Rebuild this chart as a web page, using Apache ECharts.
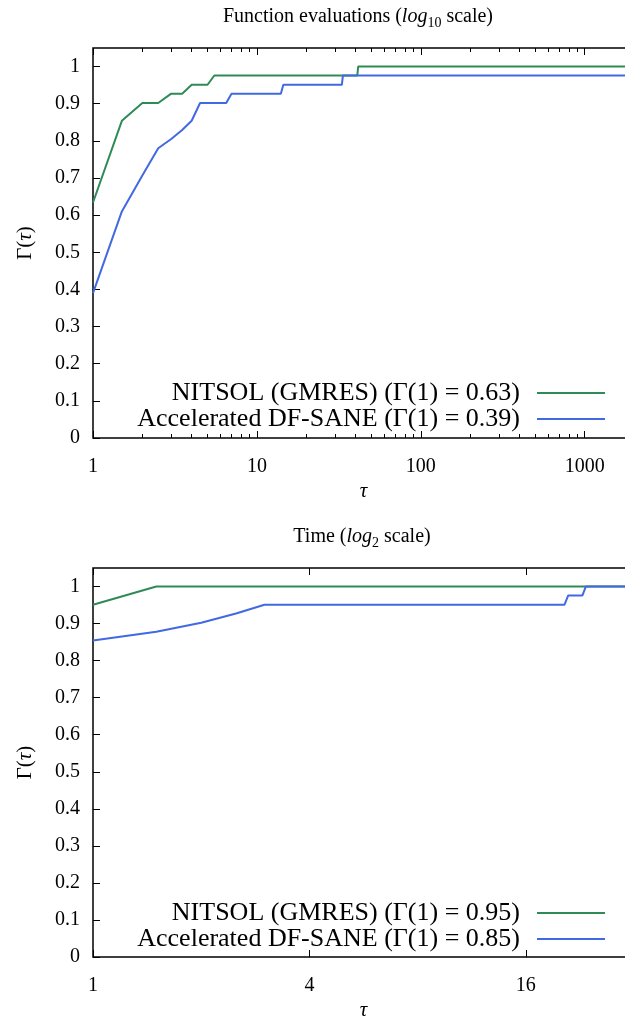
<!DOCTYPE html>
<html>
<head>
<meta charset="utf-8">
<title>performance profiles</title>
<script src="https://cdn.jsdelivr.net/npm/echarts@6/dist/echarts.min.js"></script>
<style>
html,body{margin:0;padding:0;background:#fff}
#c{width:625px;height:1018px}
</style>
</head>
<body>
<div id="c"></div>
<script>
// function evaluations profile (log10 tau)
var fevalNitsolTau = [1, 1.5, 2, 2.5, 3, 3.5, 4, 5, 5.5, 41, 41.5, 2000];
var fevalNitsolVal = [0.634, 0.854, 0.902, 0.902, 0.927, 0.927, 0.951, 0.951, 0.976, 0.976, 1, 1];
var fevalDfsaneTau = [1, 1.5, 2, 2.5, 3, 3.5, 4, 4.5, 6.5, 7, 14, 14.5, 33, 33.5, 2000];
var fevalDfsaneVal = [0.39, 0.61, 0.707, 0.78, 0.805, 0.829, 0.854, 0.902, 0.902, 0.927, 0.927, 0.951, 0.951, 0.976, 0.976];

// time profile (log2 tau)
var timeNitsolTau = [1, 1.5, 32];
var timeNitsolVal = [0.951, 1, 1];
var timeDfsaneTau = [1, 1.5, 2, 2.5, 3, 20.5, 21, 23, 23.5, 32];
var timeDfsaneVal = [0.854, 0.878, 0.902, 0.927, 0.951, 0.951, 0.976, 0.976, 1, 1];

var fevalMajor = [1, 10, 100, 1000];
var fevalMinor = [2, 3, 4, 5, 6, 7, 8, 9, 20, 30, 40, 50, 60, 70, 80, 90, 200, 300, 400, 500, 600, 700, 800, 900];
var timeMajor = [1, 4, 16];
var yTicks = [0, 0.1, 0.2, 0.3, 0.4, 0.5, 0.6, 0.7, 0.8, 0.9, 1];

var names = [
	'NITSOL (GMRES) (Γ(1) = 0.63)',
	'Accelerated DF-SANE (Γ(1) = 0.39)',
	'NITSOL (GMRES) (Γ(1) = 0.95)',
	'Accelerated DF-SANE (Γ(1) = 0.85)'
];

var FONT = '"Liberation Serif", "DejaVu Serif", serif';
var GREEN = '#2e8b57', BLUE = '#4169e1';

function pairs(t, v) {
	return t.map(function (x, i) { return [x, v[i]]; });
}

function xAx(grid, base, max, pos, ticks, len, labels) {
	return {
		gridIndex: grid, type: 'log', logBase: base, min: 1, max: max, position: pos,
		axisLine: { show: false },
		axisTick: { show: true, inside: true, length: len, customValues: ticks, lineStyle: { color: '#000', width: 1 } },
		axisLabel: labels ? {
			show: true, customValues: ticks, margin: 19, fontFamily: FONT, fontSize: 20, color: '#000',
			formatter: function (v) { return String(v); }
		} : { show: false },
		splitLine: { show: false }, minorTick: { show: false }
	};
}

function yAx(grid) {
	return {
		gridIndex: grid, type: 'value', min: 0, max: 1.05,
		axisLine: { show: false },
		axisTick: { show: true, inside: true, length: 7, customValues: yTicks, lineStyle: { color: '#000' } },
		axisLabel: { customValues: yTicks, margin: 13, fontFamily: FONT, fontSize: 20, color: '#000' },
		splitLine: { show: false },
		name: '{r|Γ(}{i|τ}{r|)}', nameLocation: 'middle', nameRotate: 90, nameGap: 57,
		nameTextStyle: { rich: {
			r: { fontFamily: FONT, fontSize: 21, color: '#000' },
			i: { fontFamily: FONT, fontSize: 21, fontStyle: 'italic', color: '#000' }
		} }
	};
}

function tauName(ax, gap) {
	ax.name = 'τ';
	ax.nameLocation = 'middle';
	ax.nameGap = gap;
	ax.nameTextStyle = { fontFamily: FONT, fontSize: 21, fontStyle: 'italic', color: '#000' };
	return ax;
}

function line(name, xi, yi, data, color) {
	return {
		name: name, type: 'line', xAxisIndex: xi, yAxisIndex: yi, data: data,
		showSymbol: false, animation: false,
		lineStyle: { color: color, width: 2 }, itemStyle: { color: color }
	};
}

function legend(data, top) {
	return {
		data: data, orient: 'vertical', align: 'right', right: 20, top: top,
		icon: 'rect', itemWidth: 68, itemHeight: 2, itemGap: 0, padding: 0,
		selectedMode: false,
		textStyle: { fontFamily: FONT, fontSize: 26, lineHeight: 26, color: '#000', padding: [0, 12, 0, 0] }
	};
}

var titleRich = {
	r: { fontFamily: FONT, fontSize: 20, fontWeight: 'normal', color: '#000', lineHeight: 26 },
	i: { fontFamily: FONT, fontSize: 20, fontWeight: 'normal', fontStyle: 'italic', color: '#000', lineHeight: 26 },
	s: { fontFamily: FONT, fontSize: 14, fontWeight: 'normal', color: '#000', verticalAlign: 'bottom', lineHeight: 14 }
};

var option = {
	backgroundColor: '#fff',
	animation: false,
	title: [
		{ text: '{r|Function evaluations (}{i|log}{s|10}{r| scale)}', left: 358, top: 4, textAlign: 'center', padding: 0, textStyle: { fontWeight: 'normal', rich: titleRich } },
		{ text: '{r|Time (}{i|log}{s|2}{r| scale)}', left: 362, top: 524, textAlign: 'center', padding: 0, textStyle: { fontWeight: 'normal', rich: titleRich } }
	],
	grid: [
		{ left: 93, top: 48, width: 541, height: 390, outerBoundsMode: 'none', show: true, borderColor: '#000', borderWidth: 1.5, backgroundColor: 'transparent' },
		{ left: 93, top: 568, width: 541, height: 389, outerBoundsMode: 'none', show: true, borderColor: '#000', borderWidth: 1.5, backgroundColor: 'transparent' }
	],
	xAxis: [
		tauName(xAx(0, 10, 2000, 'bottom', fevalMajor, 7, true), 43),
		xAx(0, 10, 2000, 'bottom', fevalMinor, 4, false),
		xAx(0, 10, 2000, 'top', fevalMajor, 7, false),
		xAx(0, 10, 2000, 'top', fevalMinor, 4, false),
		tauName(xAx(1, 2, 32, 'bottom', timeMajor, 7, true), 43),
		xAx(1, 2, 32, 'top', timeMajor, 7, false)
	],
	yAxis: [yAx(0), yAx(1)],
	legend: [
		legend([names[0], names[1]], 380),
		legend([names[2], names[3]], 900)
	],
	series: [
		line(names[0], 0, 0, pairs(fevalNitsolTau, fevalNitsolVal), GREEN),
		line(names[1], 0, 0, pairs(fevalDfsaneTau, fevalDfsaneVal), BLUE),
		line(names[2], 4, 1, pairs(timeNitsolTau, timeNitsolVal), GREEN),
		line(names[3], 4, 1, pairs(timeDfsaneTau, timeDfsaneVal), BLUE)
	]
};

var chart = echarts.init(document.getElementById('c'));
chart.setOption(option);
</script>
</body>
</html>
